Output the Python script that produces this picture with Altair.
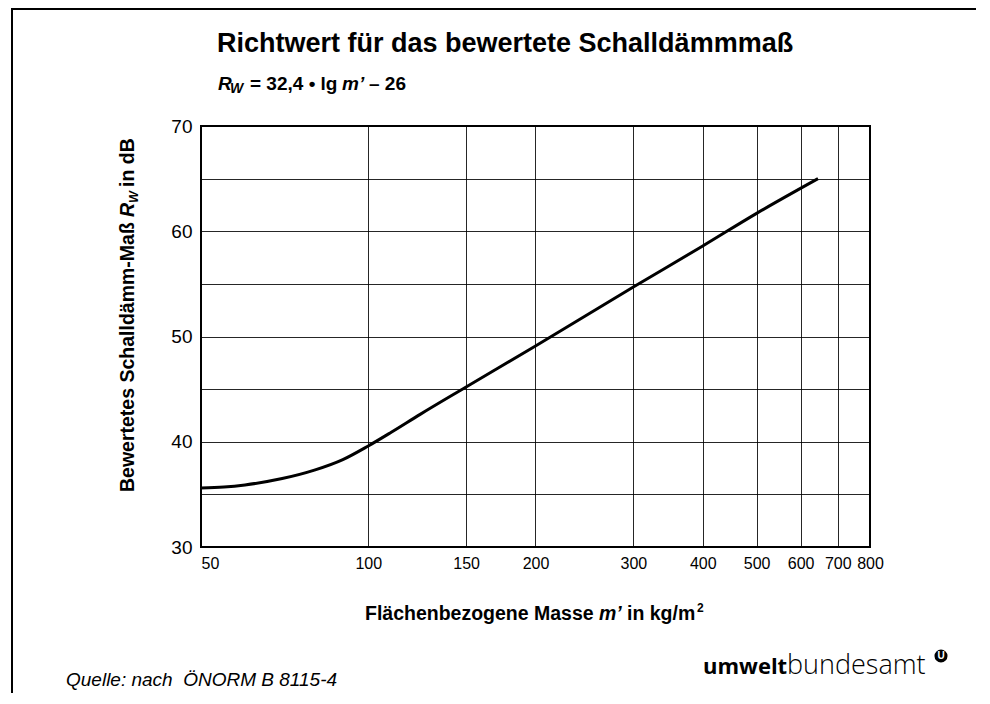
import altair as alt
import pandas as pd

# ---- data ----
mass = [50, 55, 60, 70, 80, 90, 100, 110, 124, 150, 200, 300, 400, 500, 645]
rw = [35.6, 35.7, 35.9, 36.5, 37.3, 38.3, 39.6, 40.9, 42.6, 45.2, 49.1, 54.7, 58.6, 61.7, 65.0]
x_ticks = [50, 100, 150, 200, 300, 400, 500, 600, 700, 800]
y_grid = [30, 35, 40, 45, 50, 55, 60, 65, 70]

title_text = "Richtwert für das bewertete Schalldämmmaß"
source_text = "Quelle: nach \u00a0ÖNORM B 8115-4"

FONT = "Liberation Sans, Arial, sans-serif"
LOGO_FONT = "'Open Sans', 'Noto Sans', sans-serif"

df = pd.DataFrame({"m": mass, "rw": rw})
one = pd.DataFrame({"k": [0]})

x_enc = alt.X(
    "m:Q",
    scale=alt.Scale(type="log", domain=[50, 800], nice=False),
    axis=alt.Axis(
        values=x_ticks, grid=True, ticks=False, domain=False, title=None,
        labelFont=FONT, labelFontSize=16, labelColor="black", labelPadding=8,
        labelOverlap=False, format="d",
        labelAlign={"expr": "datum.value == 50 ? 'left' : 'center'"},
        gridColor="black", gridWidth=1, gridOpacity=0.85,
    ),
)
y_enc = alt.Y(
    "rw:Q",
    scale=alt.Scale(domain=[30, 70], nice=False),
    axis=alt.Axis(
        values=y_grid, grid=True, ticks=False, domain=False, title=None,
        labelExpr="datum.value % 10 == 0 ? datum.label : ''",
        labelFont=FONT, labelFontSize=19, labelColor="black", labelPadding=9,
        gridColor="black", gridWidth=1, gridOpacity=0.85,
    ),
)

curve = alt.Chart(df).mark_line(
    color="black", strokeWidth=3, interpolate="monotone"
).encode(x=x_enc, y=y_enc)


def txt(t, x, y, size, weight="normal", style="normal", angle=0, font=FONT,
        align="left", color="black", baseline="alphabetic"):
    kw = dict(text=t, fontSize=size, fontWeight=weight, fontStyle=style,
              font=font, align=align, baseline=baseline, color=color)
    if angle:
        kw["angle"] = angle
    return alt.Chart(one).mark_text(**kw).encode(x=alt.value(x), y=alt.value(y))


texts = [
    # title + formula
    txt(title_text, 16, -74, 27, "bold"),
    txt("R", 17, -36, 19, "bold", "italic"),
    txt("W", 29, -33, 14, "bold", "italic"),
    txt("= 32,4 • lg", 49, -36, 19, "bold"),
    txt("m’", 141, -36, 19, "bold", "italic"),
    txt("– 26", 168, -36, 19, "bold"),
    # y axis title (rotated)
    txt("Bewertetes Schalldämm-Maß", -67, 366, 19.5, "bold", angle=270),
    txt("R", -67, 91, 19.5, "bold", "italic", angle=270),
    txt("W", -63, 77, 12.5, "bold", "italic", angle=270),
    txt("in dB", -67, 61, 19.5, "bold", angle=270),
    # x axis title
    txt("Flächenbezogene Masse", 164, 494, 19.5, "bold"),
    txt("m’", 398, 494, 19.5, "bold", "italic"),
    txt("in kg/m", 426, 494, 19.5, "bold"),
    txt("2", 496, 486, 12, "bold"),
    # footer
    txt(source_text, -135, 560, 19, "normal", "italic"),
    txt("umwelt", 502, 548, 22, "bold", font=LOGO_FONT),
    txt("bundesamt", 586, 548, 27, 300, font=LOGO_FONT),
]

logo_dot = alt.Chart(one).mark_point(
    filled=True, color="black", size=170, opacity=1, shape="circle"
).encode(x=alt.value(740), y=alt.value(530))
logo_u = txt("U", 740, 530, 10, "bold", color="white", align="center", baseline="middle")

frame_left = alt.Chart(one).mark_rule(color="black", strokeWidth=2).encode(
    x=alt.value(-189), y=alt.value(-118), y2=alt.value(575)
)
frame_top = alt.Chart(one).mark_rule(color="black", strokeWidth=2).encode(
    x=alt.value(-190), x2=alt.value(790), y=alt.value(-117)
)

chart = alt.layer(
    curve, frame_left, frame_top, *texts, logo_dot, logo_u
).properties(
    width=669, height=421,
    autosize=alt.AutoSizeParams(type="none"),
    padding={"left": 193, "top": 118, "right": 106, "bottom": 146},
    background="white",
).configure_view(stroke="black", strokeWidth=2)

chart.save("out.html", embed_options={"renderer": "svg", "actions": False})
